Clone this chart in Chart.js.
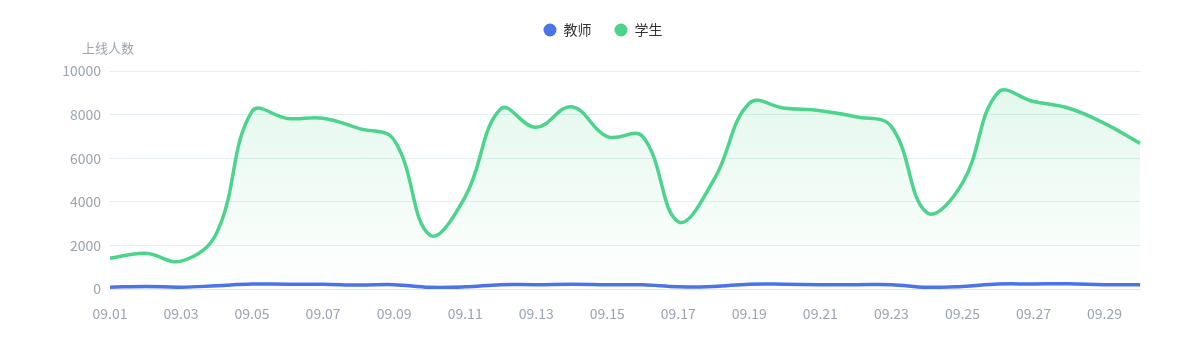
<!DOCTYPE html>
<html>
<head>
<meta charset="utf-8">
<script src="https://cdn.jsdelivr.net/npm/chart.js@4"></script>
<style>
  html, body { margin: 0; padding: 0; background: #fff; }
  #wrap { width: 1200px; height: 360px; }
</style>
</head>
<body>
<div id="wrap"><canvas id="online-chart"></canvas></div>
<script>
const days = ["09.01","09.02","09.03","09.04","09.05","09.06","09.07","09.08","09.09","09.10",
  "09.11","09.12","09.13","09.14","09.15","09.16","09.17","09.18","09.19","09.20",
  "09.21","09.22","09.23","09.24","09.25","09.26","09.27","09.28","09.29","09.30"];
const teachers = [80,120,80,150,230,220,220,180,200,80,
  100,200,200,220,200,190,100,120,220,220,
  200,200,200,80,120,230,230,240,200,200];
const students = [1410,1640,1280,2560,8150,7820,7830,7370,6830,2480,
  4230,8260,7420,8360,6990,6990,3090,5000,8520,8290,
  8180,7900,7450,3500,4860,9010,8600,8290,7600,6680];
const yTicks = [0, 2000, 4000, 6000, 8000, 10000];

const font = "'Noto Sans CJK SC', 'Noto Sans', sans-serif";

// y axis name drawn horizontally above the axis
const yTitle = {
  id: "yTitle",
  afterDraw(chart) {
    const ctx = chart.ctx;
    ctx.save();
    ctx.font = "13px " + font;
    ctx.fillStyle = "#9aa5b1";
    ctx.textAlign = "left";
    ctx.textBaseline = "middle";
    ctx.fillText("上线人数", 82, 48);
    ctx.restore();
  }
};

// leave room between legend and plot, and center legend on the page
const legendGap = {
  id: "legendGap",
  afterInit(chart) {
    const fit = chart.legend.fit;
    chart.legend.fit = function () {
      fit.bind(chart.legend)();
      this.height += 24;
    };
  },
  afterLayout(chart) {
    chart.legend.left = 3;
    chart.legend.right = chart.width + 3;
  }
};

const greenFill = (context) => {
  const area = context.chart.chartArea;
  if (!area) return "rgba(76,211,140,0.12)";
  const g = context.chart.ctx.createLinearGradient(0, area.top, 0, area.bottom);
  g.addColorStop(0, "rgba(76,211,140,0.17)");
  g.addColorStop(1, "rgba(76,211,140,0)");
  return g;
};

new Chart("online-chart", {
  type: "line",
  data: {
    labels: days,
    datasets: [
      {
        label: "教师",
        data: teachers,
        borderColor: "#4a74e8",
        backgroundColor: "#4a74e8",
        borderWidth: 3.5,
        pointRadius: 0,
        tension: 0.4,
        fill: false,
      },
      {
        label: "学生",
        data: students,
        borderColor: "#4cd38c",
        backgroundColor: greenFill,
        borderWidth: 3.5,
        pointRadius: 0,
        tension: 0.4,
        fill: "origin",
      },
    ],
  },
  options: {
    animation: false,
    responsive: true,
    maintainAspectRatio: false,
    layout: {
      padding: { left: 0, right: 60, top: 0, bottom: 0 }
    },
    scales: {
      x: {
        grid: { display: false, drawTicks: false },
        border: { display: true, color: "#e3e9f0" },
        ticks: {
          color: "#9aa5b1",
          font: { size: 14, family: font },
          padding: 16,
          maxRotation: 0,
          autoSkip: false,
          callback: function (value, index) {
            return index % 2 === 0 ? this.getLabelForValue(value) : "";
          },
        },
        afterFit: (scale) => { scale.height = 71; },
      },
      y: {
        min: 0,
        max: 10000,
        afterBuildTicks: (scale) => {
          scale.ticks = yTicks.map(v => ({ value: v }));
        },
        grid: { color: "#e6edf3", drawTicks: false },
        border: { display: false },
        ticks: {
          color: "#9aa5b1",
          font: { size: 14, family: font },
          padding: 9,
          callback: (v) => String(v),
        },
        afterFit: (scale) => { scale.width = 110; },
      },
    },
    plugins: {
      legend: {
        display: true,
        position: "top",
        labels: {
          usePointStyle: true,
          pointStyle: "circle",
          boxWidth: 13,
          boxHeight: 9.2,
          padding: 23,
          color: "#333",
          font: { size: 14, family: font },
          generateLabels: (chart) => chart.data.datasets.map((ds, i) => ({
            text: ds.label,
            fillStyle: ds.borderColor,
            strokeStyle: ds.borderColor,
            lineWidth: 0,
            pointStyle: "circle",
            fontColor: "#333",
            hidden: !chart.isDatasetVisible(i),
            datasetIndex: i,
          })),
        },
      },
      tooltip: { enabled: false },
    },
  },
  plugins: [yTitle, legendGap],
});
</script>
</body>
</html>
